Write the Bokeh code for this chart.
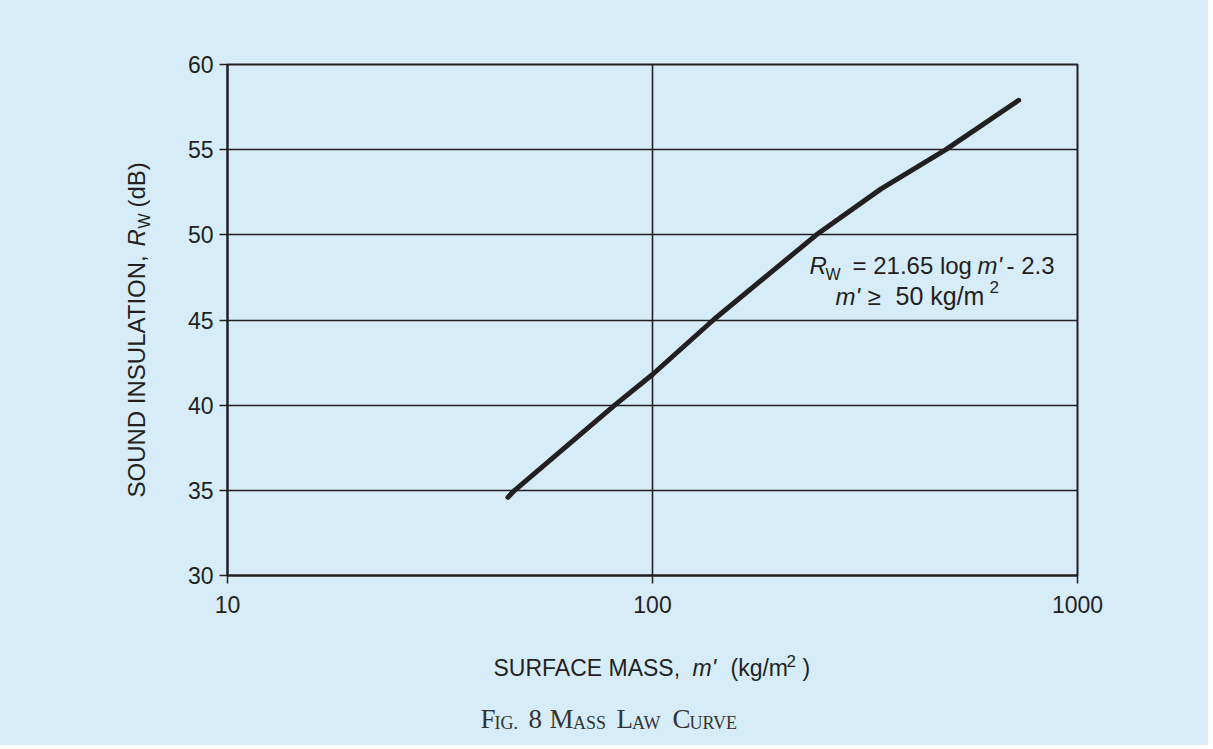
from math import pi
from bokeh.plotting import figure
from bokeh.layouts import row, column
from bokeh.models import Label, FixedTicker, NumeralTickFormatter, Range1d
from bokeh.embed import file_html
from bokeh.resources import INLINE

# data
surface_mass = [45.7, 47.4, 81.5, 100, 139, 243, 345, 490, 727]
sound_insulation = [34.6, 35.0, 40.0, 41.8, 45.0, 50.0, 52.7, 55.0, 57.9]
x_ticks = [10, 100, 1000]
y_ticks = [30, 35, 40, 45, 50, 55, 60]

BG = "#d6edf9"
INK = "#231f20"
SANS = "Liberation Sans"
SERIF = "Liberation Serif"
BGSTYLE = {"background-color": BG}

W, H = 1208, 745          # whole page
YW = 160                  # width of the strip holding the y-axis title
RH = 630                  # height of the row holding the chart
FL, FT, FR, FB = 227, 64, 1077, 575  # frame edges in page pixels
BASE = 0.38               # baseline correction (fraction of font size)


def strip(w, h):
    f = figure(width=w, height=h, x_range=Range1d(0, w), y_range=Range1d(0, h),
               x_axis_location=None, y_axis_location=None,
               output_backend="svg", toolbar_location=None, min_border=0,
               styles=BGSTYLE)
    f.background_fill_color = BG
    f.border_fill_color = BG
    f.outline_line_color = None
    f.xgrid.visible = False
    f.ygrid.visible = False
    return f


# ---- main chart ----
p = figure(width=W - YW, height=RH, x_axis_type="log",
           x_range=Range1d(10, 1000), y_range=Range1d(30, 60),
           output_backend="svg", toolbar_location=None,
           min_border_left=FL - YW, min_border_top=FT,
           min_border_right=W - FR, min_border_bottom=RH - FB,
           styles=BGSTYLE)
p.background_fill_color = BG
p.border_fill_color = BG
p.outline_line_color = INK
p.outline_line_width = 2

p.xaxis.ticker = FixedTicker(ticks=x_ticks, minor_ticks=[])
p.yaxis.ticker = FixedTicker(ticks=y_ticks, minor_ticks=[])
p.xaxis.formatter = NumeralTickFormatter(format="0")
for ax in (p.xaxis, p.yaxis):
    ax.axis_line_color = INK
    ax.axis_line_width = 2
    ax.major_tick_line_color = INK
    ax.major_tick_line_width = 1.5
    ax.major_tick_out = 8
    ax.major_tick_in = 0
    ax.minor_tick_line_color = None
    ax.major_label_text_font = SANS
    ax.major_label_text_font_size = "23px"
    ax.major_label_text_color = INK
p.xaxis.major_label_standoff = 12
p.yaxis.major_label_standoff = 6

p.xgrid.grid_line_color = INK
p.ygrid.grid_line_color = INK
p.xgrid.grid_line_width = 1.6
p.ygrid.grid_line_width = 1.6
p.xgrid.grid_line_alpha = 1
p.ygrid.grid_line_alpha = 1

p.line(surface_mass, sound_insulation, line_width=5, line_color=INK, line_cap="round")


def lab(fig, text, sx, sy, size, style="normal", font=SANS, angle=0, color=INK):
    fig.add_layout(Label(x=sx, y=sy, x_units="screen", y_units="screen",
                         text=text, text_font=font, text_font_size=f"{size}px",
                         text_font_style=style, text_align="left",
                         text_baseline="alphabetic", angle=angle, text_color=color))


def lab_main(text, px, py, size, style="normal"):
    py = py - BASE * size
    lab(p, text, px - FL, FB - py, size, style)


# equation annotation inside the chart
lab_main("R", 809, 274, 24, "italic")
lab_main("W", 825, 280, 16)
lab_main("= 21.65 log", 852, 274, 24)
lab_main("m'", 977, 274, 24, "italic")
lab_main("- 2.3", 1006, 274, 24)
lab_main("m'", 835, 305, 24, "italic")
lab_main("\u2265", 867, 305, 24)
lab_main("50 kg/m", 895, 305, 25)
lab_main("2", 989, 293, 17)

# ---- y-axis title strip (its frame lines up with the chart frame) ----
ys = strip(YW, RH)


def lab_y(text, px, py, size, style="normal"):
    px = px - BASE * size
    lab(ys, text, px, FB - py, size, style, angle=pi / 2)


lab_y("SOUND INSULATION,", 145, 497, 24)
lab_y("R", 145, 246, 24, "italic")
lab_y("W", 150, 228, 16)
lab_y("(dB)", 145, 207, 24)

# ---- bottom strip: x-axis title and caption ----
BH = H - RH
bs = strip(W, BH)


def lab_b(text, px, py, size, style="normal", font=SANS, color=INK):
    py = py - BASE * size
    lab(bs, text, px, H - py, size, style, font=font, color=color)


lab_b("SURFACE MASS,", 493, 676, 23)
lab_b("m'", 692, 676, 23, "italic")
lab_b("(kg/m", 730, 676, 23)
lab_b("2", 786, 667, 17)
lab_b(")", 802, 676, 23)

CAP = "#333333"
for txt, x0, sz in [("F", 480, 27), ("IG.", 494, 18), ("8", 528, 27), ("M", 549, 27),
                    ("ASS", 572.5, 18), ("L", 616, 27), ("AW", 631.5, 18), ("C", 672, 27),
                    ("URVE", 689, 18)]:
    lab_b(txt, x0, 729, sz, font=SERIF, color=CAP)

page = column(row(ys, p, spacing=0, styles=BGSTYLE), bs, spacing=0, styles=BGSTYLE)

html = file_html(page, INLINE)
html = html.replace("<body>", '<body style="background:%s">' % BG, 1)
open("out.html", "w").write(html)
